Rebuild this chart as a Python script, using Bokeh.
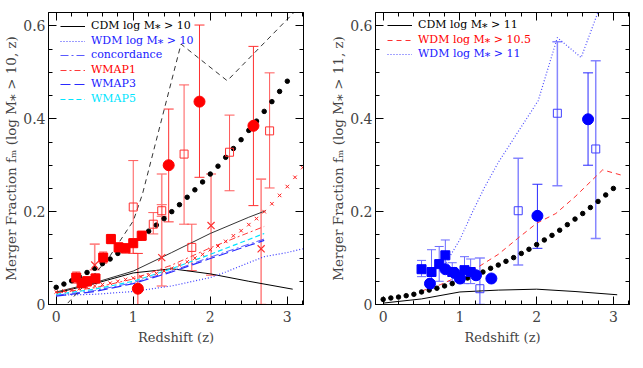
from bokeh.plotting import figure
from bokeh.layouts import row
from bokeh.models import (Range1d, LinearAxis, SingleIntervalTicker, Whisker, TeeHead,
                          ColumnDataSource, Legend, LegendItem, CustomLabelingPolicy)
from bokeh.embed import file_html
from bokeh.resources import INLINE

FONT = "DejaVu Serif"

# ---------------- data: left panel (log M* > 10) ----------------
z_grid = [0.0, 0.1, 0.2, 0.3, 0.4, 0.5, 0.6, 0.7, 0.8, 0.9, 1.0, 1.1, 1.2, 1.3, 1.4, 1.5,
          1.6, 1.7, 1.8, 1.9, 2.0, 2.1, 2.2, 2.3, 2.4, 2.5, 2.6, 2.7, 2.8, 2.9, 3.0]
dots_left = [0.037, 0.044, 0.051, 0.060, 0.069, 0.078, 0.088, 0.098, 0.110, 0.121, 0.132,
             0.144, 0.158, 0.171, 0.185, 0.200, 0.215, 0.231, 0.247, 0.264, 0.281, 0.298,
             0.317, 0.336, 0.355, 0.375, 0.395, 0.416, 0.437, 0.459, 0.481]

z_cross = [0.0, 0.1, 0.2, 0.3, 0.4, 0.5, 0.6, 0.7, 0.8, 0.9, 1.0, 1.1, 1.2, 1.3, 1.4, 1.5,
           1.6, 1.7, 1.8, 1.9, 2.0, 2.1, 2.2, 2.3, 2.4, 2.5, 2.6, 2.7, 2.8, 2.9, 3.0, 3.1, 3.2]
cross_left = [0.027, 0.029, 0.031, 0.034, 0.037, 0.040, 0.043, 0.046, 0.050, 0.054, 0.057,
              0.060, 0.063, 0.067, 0.072, 0.078, 0.085, 0.092, 0.100, 0.108, 0.118, 0.126,
              0.136, 0.148, 0.159, 0.172, 0.185, 0.200, 0.217, 0.235, 0.254, 0.274, 0.295]

z_cdm_peak = [0.0, 0.5, 1.0, 1.5, 2.0, 2.5, 3.07]
f_cdm_peak = [0.025, 0.045, 0.068, 0.077, 0.066, 0.050, 0.033]
z_cdm_rise = [0.0, 0.5, 1.0, 1.5, 2.0, 2.5, 2.72]
f_cdm_rise = [0.027, 0.047, 0.072, 0.112, 0.153, 0.188, 0.202]

z_wmap = [0.0, 0.5, 1.0, 1.5, 2.0, 2.5, 2.7]
f_wmap1 = [0.025, 0.036, 0.055, 0.085, 0.122, 0.155, 0.168]
f_wmap5 = [0.022, 0.033, 0.050, 0.077, 0.108, 0.140, 0.153]
f_wmap3 = [0.018, 0.028, 0.045, 0.070, 0.099, 0.127, 0.138]
f_conc = [0.020, 0.030, 0.047, 0.072, 0.102, 0.130, 0.141]

z_wdm10 = [0.0, 0.5, 1.0, 1.5, 2.0, 2.2, 2.5, 2.7, 3.0, 3.2]
f_wdm10 = [0.020, 0.022, 0.028, 0.040, 0.058, 0.070, 0.090, 0.103, 0.112, 0.120]

z_dash = [0.15, 0.42, 0.68, 1.0, 1.12, 1.62, 2.22, 3.15]
f_dash = [0.003, 0.051, 0.100, 0.180, 0.238, 0.561, 0.482, 0.640]

# observed points (left)
sq_z = [0.26, 0.33, 0.40, 0.51, 0.61, 0.71, 0.81, 0.90, 1.00, 1.11]
sq_f = [0.058, 0.046, 0.050, 0.056, 0.101, 0.141, 0.123, 0.121, 0.132, 0.148]
sq_lo = [0.046, 0.036, 0.040, 0.046, 0.089, 0.131, 0.113, 0.111, 0.110, 0.138]
sq_hi = [0.070, 0.056, 0.060, 0.066, 0.113, 0.151, 0.133, 0.131, 0.142, 0.158]

osq_z = [1.00, 1.26, 1.37, 1.66, 1.76, 2.25, 2.77]
osq_f = [0.210, 0.173, 0.202, 0.324, 0.123, 0.328, 0.374]
osq_lo = [0.110, 0.152, 0.190, 0.173, 0.073, 0.245, 0.251]
osq_hi = [0.310, 0.198, 0.215, 0.473, 0.173, 0.408, 0.499]

bx_z = [0.50, 1.37, 2.01, 2.66]
bx_f = [0.085, 0.101, 0.170, 0.120]
bx_lo = [0.075, 0.040, 0.063, 0.000]
bx_hi = [0.130, 0.281, 0.281, 0.270]

rc_z = [1.06, 1.46, 1.86, 2.56]
rc_f = [0.034, 0.300, 0.437, 0.385]
rc_lo = [0.000, 0.178, 0.274, 0.213]
rc_hi = [0.110, 0.421, 0.602, 0.556]

# ---------------- data: right panel (log M* > 11) ----------------
dots_right = [0.011, 0.014, 0.016, 0.019, 0.022, 0.027, 0.031, 0.035, 0.040, 0.045, 0.051,
              0.057, 0.063, 0.070, 0.078, 0.085, 0.093, 0.101, 0.110, 0.119, 0.129, 0.139,
              0.149, 0.160, 0.172, 0.184, 0.196, 0.209, 0.222, 0.236, 0.250]

z_cdm11 = [0.0, 0.5, 1.0, 1.5, 2.0, 2.5, 3.05]
f_cdm11 = [0.003, 0.012, 0.027, 0.031, 0.033, 0.028, 0.021]
z_wdm105 = [0.5, 0.75, 1.0, 1.25, 1.5, 1.75, 2.0, 2.25, 2.5, 2.86, 3.14]
f_wdm105 = [0.029, 0.043, 0.062, 0.082, 0.108, 0.142, 0.175, 0.196, 0.232, 0.290, 0.277]
z_wdm11 = [0.82, 1.0, 1.16, 1.32, 1.5, 2.02, 2.27, 2.58, 2.8, 3.0]
f_wdm11 = [0.090, 0.140, 0.198, 0.252, 0.306, 0.439, 0.575, 0.532, 0.630, 0.720]

bsq_z = [0.50, 0.63, 0.73, 0.81, 0.90, 1.06, 1.14]
bsq_f = [0.076, 0.070, 0.087, 0.106, 0.070, 0.074, 0.070]
bsq_lo = [0.060, 0.035, 0.050, 0.073, 0.050, 0.045, 0.045]
bsq_hi = [0.095, 0.118, 0.125, 0.139, 0.090, 0.103, 0.098]

bc_z = [0.61, 0.81, 0.93, 1.00, 1.21, 1.41]
bc_f = [0.045, 0.076, 0.068, 0.056, 0.063, 0.056]

bce_z = [2.01, 2.67]
bce_f = [0.191, 0.399]
bce_lo = [0.121, 0.300]
bce_hi = [0.259, 0.499]

bos_z = [1.26, 1.76, 2.27, 2.77]
bos_f = [0.034, 0.202, 0.412, 0.335]
bos_lo = [0.000, 0.085, 0.256, 0.142]
bos_hi = [0.100, 0.315, 0.566, 0.525]

NO_LABELS = """
try {
  for (let i = 0; i < indices.size; i++) { indices.set(i, false) }
} catch (e) {}
return indices
"""


def make_fig(ylabel, fw, bl, br):
    p = figure(frame_width=fw, frame_height=292,
               x_range=Range1d(-0.1, 3.21), y_range=Range1d(0, 0.629),
               output_backend="svg", toolbar_location=None,
               min_border_left=bl, min_border_right=br, min_border_top=12,
               min_border_bottom=46, background_fill_color="white",
               border_fill_color="white")
    p.xgrid.visible = False
    p.ygrid.visible = False
    p.outline_line_color = "black"
    xt = SingleIntervalTicker(interval=1, num_minor_ticks=5)
    yt = SingleIntervalTicker(interval=0.2, num_minor_ticks=4)
    p.xaxis.ticker = xt
    p.yaxis.ticker = yt
    p.xaxis.axis_label = "Redshift (z)"
    p.yaxis.axis_label = ylabel
    for ax in p.xaxis + p.yaxis:
        ax.axis_label_text_font = FONT
        ax.axis_label_text_font_style = "normal"
        ax.axis_label_text_font_size = "13px"
        ax.major_label_text_font = FONT
        ax.major_label_text_font_size = "14px"
        ax.major_tick_in = 8
        ax.major_tick_out = 0
        ax.minor_tick_in = 4
        ax.minor_tick_out = 0
        ax.axis_line_color = "black"
        ax.major_tick_line_color = "black"
        ax.minor_tick_line_color = "black"
    p.xaxis.major_label_standoff = 6
    p.xaxis.axis_label_standoff = 5
    p.yaxis.major_label_standoff = 3
    p.yaxis.axis_label_standoff = 1
    p.yaxis.axis_label_text_font_size = "13.5px"
    for side, tk in (("above", xt), ("right", yt)):
        ax = LinearAxis(ticker=tk, major_label_text_font_size="0px",
                        major_label_policy=CustomLabelingPolicy(code=NO_LABELS),
                        major_tick_in=8, major_tick_out=0, minor_tick_in=4,
                        minor_tick_out=0, major_label_standoff=0)
        p.add_layout(ax, side)
    return p


def errbars(p, z, lo, hi, color, width=1.0, alpha=1.0, head=9):
    src = ColumnDataSource(dict(z=z, lo=lo, hi=hi))
    w = Whisker(source=src, base="z", lower="lo", upper="hi",
                line_color=color, line_width=width, line_alpha=alpha,
                upper_head=TeeHead(size=head, line_color=color, line_width=width, line_alpha=alpha),
                lower_head=TeeHead(size=head, line_color=color, line_width=width, line_alpha=alpha))
    p.add_layout(w)


def legend_item(p, renderer, label, color, y_top, x, fh=292):
    lg = Legend(items=[LegendItem(label=label, renderers=[renderer])],
                location=(x, fh - y_top - 6), orientation="vertical",
                glyph_width=25, glyph_height=12, label_height=12, label_width=10,
                padding=0, margin=0, spacing=0, label_standoff=6,
                border_line_alpha=0, background_fill_alpha=0,
                label_text_font=FONT, label_text_font_size="11px",
                label_text_color=color, label_text_baseline="middle")
    p.add_layout(lg)


# ---------------- left panel ----------------
p1 = make_fig("Merger Fraction fₘ (log M⁎ > 10, z)", 255, 41, 24)

r_cdm = p1.line(z_cdm_peak, f_cdm_peak, line_color="black", line_width=1)
p1.line(z_cdm_rise, f_cdm_rise, line_color="#333333", line_width=1)
r_wdm = p1.line(z_wdm10, f_wdm10, line_color="#3a3aff", line_width=1.2, line_dash="1 2")
r_conc = p1.line(z_wmap, f_conc, line_color="#5a5aff", line_width=1, line_dash="8 3 2 3")
r_w1 = p1.line(z_wmap, f_wmap1, line_color="#ff3a3a", line_width=1, line_dash="6 3 2 3")
r_w3 = p1.line(z_wmap, f_wmap3, line_color="#2a2aff", line_width=1.2, line_dash="10 4")
r_w5 = p1.line(z_wmap, f_wmap5, line_color="#00e5ff", line_width=1.2, line_dash="5 3")
p1.line(z_dash, f_dash, line_color="#333333", line_width=1, line_dash="5 4")

p1.scatter(z_cross, cross_left, marker="x", size=5, line_color="#ff2020", line_width=1)
p1.scatter(z_grid, dots_left, marker="circle", size=4.5, fill_color="black", line_color="black")

errbars(p1, sq_z, sq_lo, sq_hi, "#ff4040", 1, 1.0, 8)
errbars(p1, osq_z, osq_lo, osq_hi, "#ff5a5a", 1, 1.0, 10)
errbars(p1, bx_z, bx_lo, bx_hi, "#ff7a7a", 1.6, 0.9, 10)
errbars(p1, rc_z, rc_lo, rc_hi, "#ff3030", 1, 1.0, 10)

p1.scatter(sq_z, sq_f, marker="square", size=9, fill_color="red", line_color="red")
p1.scatter(osq_z, osq_f, marker="square", size=8, fill_color=None, line_color="#ff3030", line_width=1)
p1.scatter(bx_z, bx_f, marker="x", size=10, line_color="#ff3030", line_width=1.2)
p1.scatter(rc_z, rc_f, marker="circle", size=11, fill_color="red", line_color="red")

legend_item(p1, r_cdm, "CDM log M⁎ > 10", "black", 14, 12)
legend_item(p1, r_wdm, "WDM log M⁎ > 10", "#2020ff", 29, 12)
legend_item(p1, r_conc, "concordance", "#2020ff", 43, 12)
legend_item(p1, r_w1, "WMAP1", "red", 58, 12)
legend_item(p1, r_w3, "WMAP3", "#2020ff", 72, 12)
legend_item(p1, r_w5, "WMAP5", "#00e5ff", 87, 12)

# ---------------- right panel ----------------
p2 = make_fig("Merger Fraction fₘ (log M⁎ > 11, z)", 254, 43, 10)

r_c11 = p2.line(z_cdm11, f_cdm11, line_color="black", line_width=1)
r_w105 = p2.line(z_wdm105, f_wdm105, line_color="#ff3030", line_width=1, line_dash="5 4")
r_w11 = p2.line(z_wdm11, f_wdm11, line_color="#4a4aff", line_width=1.2, line_dash="1 2")
p2.scatter(z_grid, dots_right, marker="circle", size=4.5, fill_color="black", line_color="black")

errbars(p2, bsq_z, bsq_lo, bsq_hi, "#6a6aff", 1, 1.0, 9)
errbars(p2, bce_z, bce_lo, bce_hi, "#2a2aff", 1, 1.0, 10)
errbars(p2, bos_z, bos_lo, bos_hi, "#7a7aff", 1.5, 0.9, 10)

p2.scatter(bsq_z, bsq_f, marker="square", size=9, fill_color="blue", line_color="blue")
p2.scatter(bc_z, bc_f, marker="circle", size=11, fill_color="blue", line_color="blue")
p2.scatter(bce_z, bce_f, marker="circle", size=11, fill_color="blue", line_color="blue")
p2.scatter(bos_z, bos_f, marker="square", size=8, fill_color=None, line_color="#4040ff", line_width=1)

legend_item(p2, r_c11, "CDM log M⁎ > 11", "black", 13, 12)
legend_item(p2, r_w105, "WDM log M⁎ > 10.5", "red", 28, 12)
legend_item(p2, r_w11, "WDM log M⁎ > 11", "#2020ff", 42, 12)

layout = row(p1, p2)
open("out.html", "w").write(file_html(layout, INLINE))
